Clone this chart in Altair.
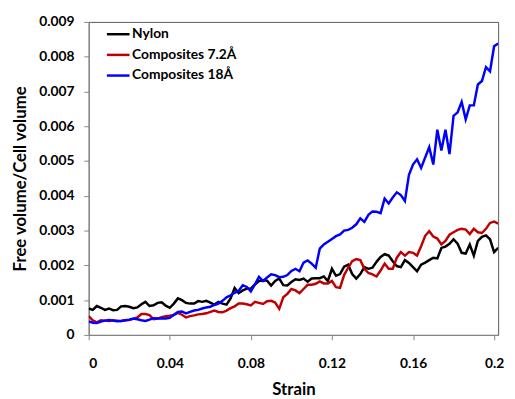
import altair as alt
import pandas as pd

step = 0.002
n_points = 102
strain = [round(i * step, 3) for i in range(n_points)]

nylon = [
    0.00076, 0.00072, 0.00083, 0.00078, 0.00072, 0.00076, 0.00071, 0.00072, 0.00082, 0.00083,
    0.00081, 0.00077, 0.00079, 0.00088, 0.00095, 0.00083, 0.00085, 0.00092, 0.00094, 0.00084,
    0.00078, 0.00090, 0.00105, 0.00100, 0.00092, 0.00090, 0.00090, 0.00097, 0.00095, 0.00098,
    0.00093, 0.00087, 0.00095, 0.00090, 0.00087, 0.00105, 0.00135, 0.00120, 0.00128, 0.00133,
    0.00133, 0.00145, 0.00155, 0.00156, 0.00156, 0.00142, 0.00155, 0.00162, 0.00143, 0.00142,
    0.00152, 0.00160, 0.00158, 0.00162, 0.00153, 0.00162, 0.00163, 0.00163, 0.00168, 0.00155,
    0.00190, 0.00170, 0.00175, 0.00196, 0.00202, 0.00175, 0.00162, 0.00175, 0.00195, 0.00190,
    0.00193, 0.00210, 0.00224, 0.00232, 0.00228, 0.00212, 0.00198, 0.00195, 0.00215, 0.00207,
    0.00195, 0.00183, 0.00202, 0.00208, 0.00215, 0.00222, 0.00220, 0.00250, 0.00254, 0.00262,
    0.00275, 0.00262, 0.00236, 0.00234, 0.00260, 0.00228, 0.00270, 0.00282, 0.00286, 0.00275,
    0.00238, 0.00250,
]

comp72 = [
    0.00054, 0.00042, 0.00036, 0.00042, 0.00041, 0.00040, 0.00042, 0.00041, 0.00040, 0.00042,
    0.00043, 0.00046, 0.00050, 0.00060, 0.00060, 0.00057, 0.00045, 0.00047, 0.00051, 0.00054,
    0.00055, 0.00057, 0.00063, 0.00058, 0.00050, 0.00054, 0.00056, 0.00059, 0.00060, 0.00062,
    0.00066, 0.00070, 0.00066, 0.00065, 0.00070, 0.00077, 0.00082, 0.00090, 0.00090, 0.00088,
    0.00085, 0.00095, 0.00092, 0.00089, 0.00097, 0.00098, 0.00093, 0.00075, 0.00108, 0.00118,
    0.00132, 0.00128, 0.00120, 0.00132, 0.00144, 0.00144, 0.00147, 0.00154, 0.00148, 0.00148,
    0.00155, 0.00137, 0.00135, 0.00172, 0.00193, 0.00212, 0.00218, 0.00215, 0.00190, 0.00178,
    0.00174, 0.00168, 0.00185, 0.00205, 0.00190, 0.00190, 0.00222, 0.00238, 0.00228, 0.00238,
    0.00236, 0.00228, 0.00255, 0.00285, 0.00298, 0.00283, 0.00277, 0.00260, 0.00270, 0.00288,
    0.00295, 0.00302, 0.00305, 0.00303, 0.00290, 0.00305, 0.00295, 0.00293, 0.00305, 0.00322,
    0.00326, 0.00320,
]

comp18 = [
    0.00039, 0.00035, 0.00034, 0.00038, 0.00041, 0.00043, 0.00041, 0.00039, 0.00040, 0.00042,
    0.00044, 0.00047, 0.00045, 0.00042, 0.00040, 0.00044, 0.00048, 0.00047, 0.00048, 0.00047,
    0.00049, 0.00058, 0.00066, 0.00067, 0.00062, 0.00066, 0.00070, 0.00072, 0.00076, 0.00079,
    0.00081, 0.00086, 0.00090, 0.00098, 0.00108, 0.00114, 0.00121, 0.00127, 0.00143, 0.00138,
    0.00125, 0.00145, 0.00167, 0.00155, 0.00165, 0.00174, 0.00172, 0.00166, 0.00167, 0.00172,
    0.00184, 0.00190, 0.00183, 0.00208, 0.00214, 0.00205, 0.00193, 0.00248, 0.00260, 0.00268,
    0.00276, 0.00284, 0.00289, 0.00300, 0.00302, 0.00308, 0.00318, 0.00335, 0.00325, 0.00345,
    0.00355, 0.00354, 0.00350, 0.00392, 0.00378, 0.00395, 0.00410, 0.00402, 0.00385, 0.00460,
    0.00490, 0.00505, 0.00480, 0.00510, 0.00540, 0.00490, 0.00590, 0.00530, 0.00590, 0.00520,
    0.00630, 0.00640, 0.00670, 0.00620, 0.00660, 0.00660, 0.00720, 0.00730, 0.00770, 0.00758,
    0.00830, 0.00838,
]

series_names = ["Nylon", "Composites 7.2Å", "Composites 18Å"]
series_colors = ["#000000", "#C00000", "#0000FF"]
x_ticks = [0, 0.04, 0.08, 0.12, 0.16, 0.2]
y_ticks = [0, 0.001, 0.002, 0.003, 0.004, 0.005, 0.006, 0.007, 0.008, 0.009]

rows = []
for name, vals in zip(series_names, [nylon, comp72, comp18]):
    for i, (s, v) in enumerate(zip(strain, vals)):
        rows.append({"Strain": s, "value": v, "series": name, "order": i})
df = pd.DataFrame(rows)

FONT = "Lato"

chart = (
    alt.Chart(df)
    .mark_line(strokeWidth=2.5, clip=True)
    .encode(
        x=alt.X(
            "Strain:Q",
            scale=alt.Scale(domain=[0, 0.202], nice=False, zero=False),
            axis=alt.Axis(
                values=x_ticks,
                labelExpr="datum.value == 0 ? '0' : format(datum.value, '.2~f')",
                title="Strain",
                grid=False,
                tickSize=5,
                labelPadding=17,
                titlePadding=12,
            ),
        ),
        y=alt.Y(
            "value:Q",
            scale=alt.Scale(domain=[0, 0.009], nice=False),
            axis=alt.Axis(
                values=y_ticks,
                labelExpr="datum.value == 0 ? '0' : format(datum.value, '.3f')",
                title="Free volume/Cell volume",
                grid=False,
                tickSize=5,
                labelPadding=10,
                titlePadding=9,
            ),
        ),
        color=alt.Color(
            "series:N",
            scale=alt.Scale(domain=series_names, range=series_colors),
            sort=series_names,
            legend=alt.Legend(
                title=None,
                orient="none",
                legendX=18.5,
                legendY=1,
                symbolType="M-1.15,0H1.15",
                symbolSize=400,
                symbolStrokeWidth=2.5,
                labelFontSize=14,
                labelFont=FONT,
                labelFontWeight="bold",
                labelColor="#000000",
                labelOffset=2.5,
                rowPadding=2,
                padding=0,
            ),
        ),
        order="order:Q",
    )
    .properties(
        width=416,
        height=318,
        autosize=alt.AutoSizeParams(type="none"),
        padding={"left": 82, "top": 11, "right": 9, "bottom": 62},
    )
    .configure_view(stroke="#595959", strokeWidth=1)
    .configure_axis(
        domainColor="#868686",
        tickColor="#868686",
        labelFont=FONT,
        labelFontSize=14,
        labelFontWeight="bold",
        labelColor="#000000",
        titleFont=FONT,
        titleFontSize=17,
        titleFontWeight="bold",
        titleColor="#000000",
    )
)

chart.save("out.html", embed_options={"renderer": "svg", "actions": False})
